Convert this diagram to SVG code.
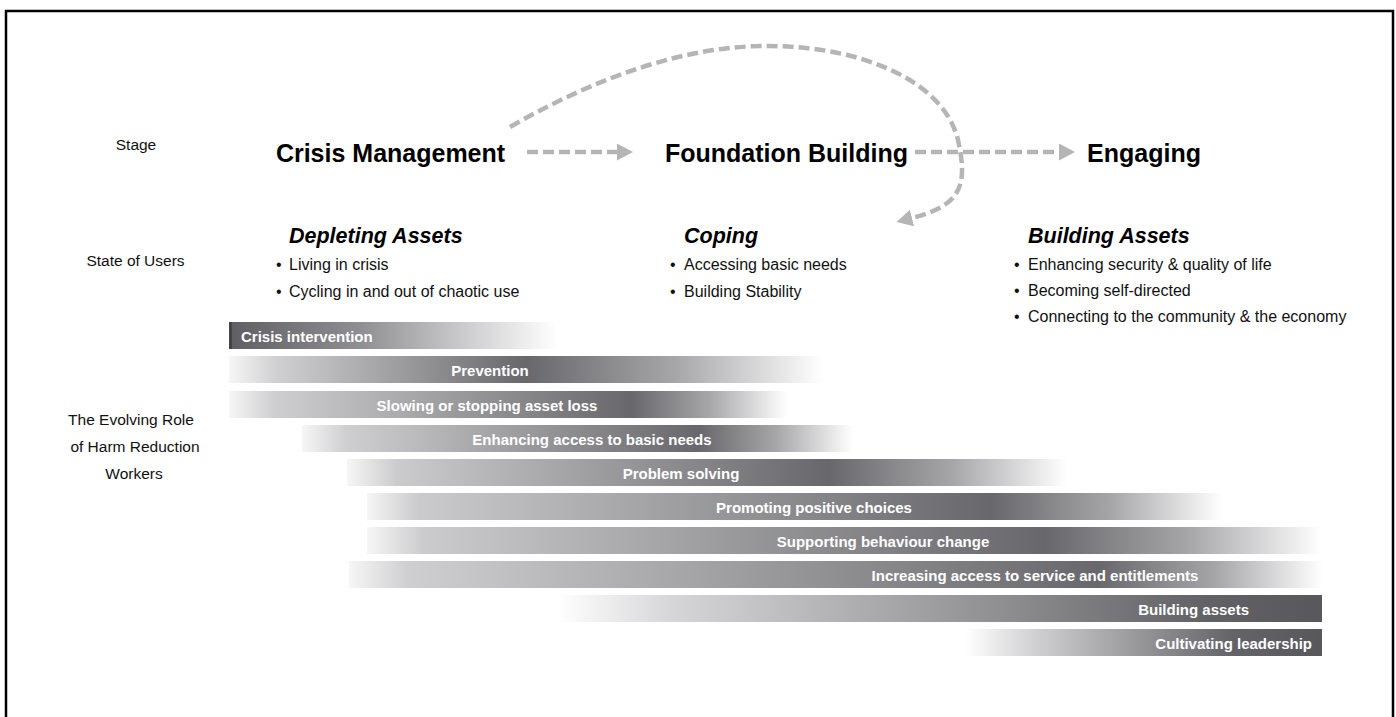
<svg xmlns="http://www.w3.org/2000/svg" width="1396" height="717" viewBox="0 0 1396 717">
<style>
.lbl{font-family:"Liberation Sans",Arial,sans-serif;font-size:15.5px;fill:#111;text-anchor:middle}
.stage{font-family:"Liberation Sans",Arial,sans-serif;font-size:25px;font-weight:bold;fill:#000;text-anchor:middle}
.head{font-family:"Liberation Sans",Arial,sans-serif;font-size:21.5px;font-weight:bold;font-style:italic;fill:#000}
.item{font-family:"Liberation Sans",Arial,sans-serif;font-size:16px;fill:#111}
.bar{font-family:"Liberation Sans",Arial,sans-serif;font-size:15px;font-weight:bold;fill:#fff}
.conn{fill:none;stroke:#b5b5b5;stroke-width:4.5;stroke-dasharray:11 5}
</style>
<defs>
<marker id="ah" viewBox="0 0 16 17" refX="0" refY="8.5" markerWidth="16" markerHeight="17" markerUnits="userSpaceOnUse" orient="auto">
<path d="M0,0 L16,8.5 L0,17 Z" fill="#b5b5b5"/>
</marker>
<linearGradient id="g1"><stop offset="0" stop-color="#5f5f63"/><stop offset="0.4" stop-color="#8f8f93"/><stop offset="0.75" stop-color="#d2d2d4"/><stop offset="1" stop-color="#ffffff"/></linearGradient>
<linearGradient id="g2"><stop offset="0" stop-color="#f6f6f6"/><stop offset="0.08" stop-color="#d0d0d2"/><stop offset="0.5" stop-color="#68686c"/><stop offset="0.75" stop-color="#a6a6a9"/><stop offset="1" stop-color="#ffffff"/></linearGradient>
<linearGradient id="g3"><stop offset="0" stop-color="#f6f6f6"/><stop offset="0.08" stop-color="#cfcfd1"/><stop offset="0.72" stop-color="#68686c"/><stop offset="0.86" stop-color="#a6a6a9"/><stop offset="1" stop-color="#ffffff"/></linearGradient>
<linearGradient id="g4"><stop offset="0" stop-color="#f6f6f6"/><stop offset="0.08" stop-color="#cfcfd1"/><stop offset="0.72" stop-color="#68686c"/><stop offset="0.86" stop-color="#a6a6a9"/><stop offset="1" stop-color="#ffffff"/></linearGradient>
<linearGradient id="g5"><stop offset="0" stop-color="#f6f6f6"/><stop offset="0.07" stop-color="#cbcbcd"/><stop offset="0.67" stop-color="#68686c"/><stop offset="0.84" stop-color="#a6a6a9"/><stop offset="1" stop-color="#ffffff"/></linearGradient>
<linearGradient id="g6"><stop offset="0" stop-color="#f6f6f6"/><stop offset="0.06" stop-color="#cbcbcd"/><stop offset="0.73" stop-color="#68686c"/><stop offset="0.87" stop-color="#a6a6a9"/><stop offset="1" stop-color="#ffffff"/></linearGradient>
<linearGradient id="g7"><stop offset="0" stop-color="#f6f6f6"/><stop offset="0.06" stop-color="#cbcbcd"/><stop offset="0.71" stop-color="#68686c"/><stop offset="0.86" stop-color="#a6a6a9"/><stop offset="1" stop-color="#ffffff"/></linearGradient>
<linearGradient id="g8"><stop offset="0" stop-color="#f6f6f6"/><stop offset="0.06" stop-color="#cfcfd1"/><stop offset="0.77" stop-color="#68686c"/><stop offset="0.89" stop-color="#a6a6a9"/><stop offset="1" stop-color="#ffffff"/></linearGradient>
<linearGradient id="g9"><stop offset="0" stop-color="#ffffff"/><stop offset="0.15" stop-color="#d6d6d8"/><stop offset="0.85" stop-color="#626266"/><stop offset="1" stop-color="#58585c"/></linearGradient>
<linearGradient id="g10"><stop offset="0" stop-color="#ffffff"/><stop offset="0.2" stop-color="#cfcfd1"/><stop offset="0.75" stop-color="#646468"/><stop offset="1" stop-color="#58585c"/></linearGradient>
</defs>
<rect x="0" y="0" width="1396" height="717" fill="#ffffff"/>
<path d="M6 720 V11 H1393 V720" fill="none" stroke="#000" stroke-width="2.5"/>

<g id="row-labels">
<text class="lbl" x="136" y="150">Stage</text>
<text class="lbl" x="135.5" y="266">State of Users</text>
<text class="lbl" x="131" y="425">The Evolving Role</text>
<text class="lbl" x="135" y="452">of Harm Reduction</text>
<text class="lbl" x="134" y="479">Workers</text>
</g>

<g id="stage-crisis"><text class="stage" x="390.5" y="162">Crisis Management</text></g>
<g id="stage-foundation"><text class="stage" x="786.5" y="162">Foundation Building</text></g>
<g id="stage-engaging"><text class="stage" x="1144" y="162">Engaging</text></g>

<g id="state-depleting">
<text class="head" x="289" y="243">Depleting Assets</text>
<text class="item" x="276" y="270">•</text><text class="item" x="289" y="270">Living in crisis</text>
<text class="item" x="276" y="297">•</text><text class="item" x="289" y="297">Cycling in and out of chaotic use</text>
</g>
<g id="state-coping">
<text class="head" x="684" y="243">Coping</text>
<text class="item" x="670" y="270">•</text><text class="item" x="684" y="270">Accessing basic needs</text>
<text class="item" x="670" y="297">•</text><text class="item" x="684" y="297">Building Stability</text>
</g>
<g id="state-building">
<text class="head" x="1028" y="243">Building Assets</text>
<text class="item" x="1014" y="270">•</text><text class="item" x="1028" y="270">Enhancing security &amp; quality of life</text>
<text class="item" x="1014" y="296">•</text><text class="item" x="1028" y="296">Becoming self-directed</text>
<text class="item" x="1014" y="322">•</text><text class="item" x="1028" y="322">Connecting to the community &amp; the economy</text>
</g>

<g id="connectors">
<line class="conn" x1="527" y1="152" x2="617" y2="152" marker-end="url(#ah)"/>
<line class="conn" x1="915" y1="152" x2="1059" y2="152" marker-end="url(#ah)"/>
<path class="conn" d="M510 127 C600 75 690 45 770 46 C870 47 945 85 958 140 C968 185 962 205 912 218" marker-end="url(#ah)"/>
</g>

<g id="bar-crisis"><rect x="229" y="322" width="328" height="27" fill="url(#g1)"/><rect x="229" y="322" width="3" height="27" fill="#444447"/><text class="bar" x="241" y="342">Crisis intervention</text></g>
<g id="bar-prevention"><rect x="229" y="356" width="594" height="27" fill="url(#g2)"/><text class="bar" x="490" y="376" text-anchor="middle">Prevention</text></g>
<g id="bar-slowing"><rect x="229" y="391" width="558" height="27" fill="url(#g3)"/><text class="bar" x="487" y="411" text-anchor="middle">Slowing or stopping asset loss</text></g>
<g id="bar-enhancing"><rect x="302" y="425" width="551" height="27" fill="url(#g4)"/><text class="bar" x="592" y="445" text-anchor="middle">Enhancing access to basic needs</text></g>
<g id="bar-problem"><rect x="347" y="459" width="720" height="27" fill="url(#g5)"/><text class="bar" x="681" y="479" text-anchor="middle">Problem solving</text></g>
<g id="bar-promoting"><rect x="367" y="493" width="855" height="27" fill="url(#g6)"/><text class="bar" x="814" y="513" text-anchor="middle">Promoting positive choices</text></g>
<g id="bar-supporting"><rect x="367" y="527" width="955" height="27" fill="url(#g7)"/><text class="bar" x="883" y="547" text-anchor="middle">Supporting behaviour change</text></g>
<g id="bar-increasing"><rect x="349" y="561" width="973" height="27" fill="url(#g8)"/><text class="bar" x="1035" y="581" text-anchor="middle">Increasing access to service and entitlements</text></g>
<g id="bar-building"><rect x="557" y="595" width="765" height="27" fill="url(#g9)"/><text class="bar" x="1249" y="615" text-anchor="end">Building assets</text></g>
<g id="bar-cultivating"><rect x="965" y="629" width="357" height="27" fill="url(#g10)"/><text class="bar" x="1312" y="649" text-anchor="end">Cultivating leadership</text></g>
</svg>
